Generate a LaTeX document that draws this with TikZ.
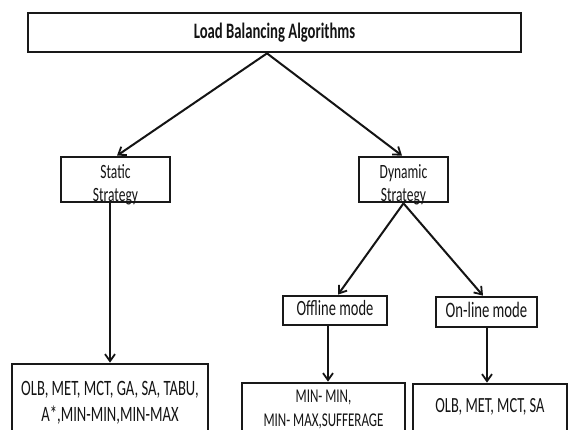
\documentclass[tikz,border=0pt]{standalone}
\usepackage{graphicx}
\usepackage{fontspec}
\setmainfont{Carlito}
\usetikzlibrary{arrows.meta}
\newcommand\vtxt[1]{\scalebox{1}[1.5]{\begin{tabular}{@{}c@{}}#1\end{tabular}}}
\newcommand\vlow[2]{\smash{\raisebox{#1}{\vtxt{#2}}}}
\begin{document}
\begin{tikzpicture}[x=1pt,y=-1pt,
  box/.style={draw=black!90, line width=2.7pt, inner sep=0pt, text=black!92, anchor=center},
  arr/.style={line width=2pt, draw=black!92, -{Straight Barb[length=7pt,width=10pt,line width=1.8pt]}}]
\useasboundingbox (0,0) rectangle (568,430);
\clip (0,0) rectangle (568,430);
\fill[white] (0,0) rectangle (568,430);

\node[box, minimum width=493pt, minimum height=39pt, font=\bfseries\fontsize{14.7}{17}\selectfont] (lba) at (274.5,32.5) {\vlow{-6pt}{Load Balancing Algorithms}};
\node[box, minimum width=109pt, minimum height=45pt, font=\fontsize{13.5}{15.3}\selectfont] (static) at (115.5,179.5) {\vlow{-11pt}{Static\\Strategy}};
\node[box, minimum width=89pt, minimum height=45pt, font=\fontsize{13.5}{15.3}\selectfont] (dyn) at (403.5,179.5) {\vlow{-11pt}{Dynamic\\Strategy}};
\node[box, minimum width=104pt, minimum height=29pt, font=\fontsize{14.5}{17}\selectfont] (off) at (335,310.5) {\vlow{-5.5pt}{Offline mode}};
\node[box, minimum width=101pt, minimum height=30pt, font=\fontsize{14.7}{17}\selectfont] (on) at (486.5,312) {\vlow{-5.8pt}{On-line mode}};
\node[box, minimum width=196pt, minimum height=81pt, font=\fontsize{14.6}{17.3}\selectfont] (slist) at (110,404.5) {\vlow{-4pt}{OLB, MET, MCT, GA, SA, TABU,\\A*,MIN-MIN,MIN-MAX}};
\node[box, minimum width=163pt, minimum height=61pt, font=\fontsize{13}{15.7}\selectfont] (offlist) at (323.5,413.5) {\vlow{-0.8pt}{MIN- MIN,\\MIN- MAX,SUFFERAGE}};
\node[box, minimum width=154pt, minimum height=61pt, font=\fontsize{14.4}{17}\selectfont] (onlist) at (490,414.5) {\vlow{2pt}{OLB, MET, MCT, SA}};

\draw[arr] ([xshift=-7.5pt]lba.south) -- ([xshift=1.5pt]static.north);
\draw[arr] ([xshift=-7.5pt]lba.south) -- ([xshift=-1.5pt]dyn.north);
\draw[arr] (static.south -| slist.north) -- (slist.north);
\draw[arr] (dyn.south) -- ([xshift=3pt]off.north);
\draw[arr] (dyn.south) -- ([xshift=-3.5pt]on.north);
\draw[arr] ([xshift=-7pt]off.south) -- ([xshift=-7pt]off.south |- offlist.north);
\draw[arr] ([xshift=0.5pt]on.south) -- ([xshift=0.5pt]on.south |- onlist.north);
\end{tikzpicture}
\end{document}
